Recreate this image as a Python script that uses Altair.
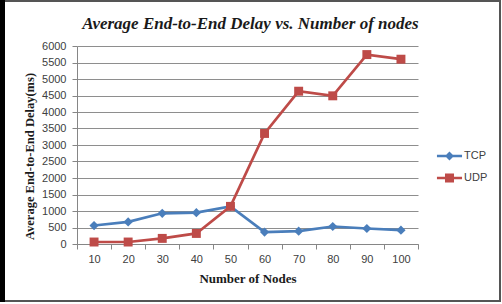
import altair as alt
import pandas as pd

nodes = [10, 20, 30, 40, 50, 60, 70, 80, 90, 100]
tcp = [560, 670, 930, 950, 1140, 360, 390, 530, 470, 420]
udp = [60, 60, 170, 320, 1140, 3350, 4630, 4490, 5740, 5600]
series = ["TCP", "UDP"]
colors = ["#4A7EBB", "#BE4B48"]
y_ticks = list(range(0, 6001, 500))

df = pd.DataFrame({
    "nodes": nodes * 2,
    "delay": tcp + udp,
    "series": ["TCP"] * len(nodes) + ["UDP"] * len(nodes),
})

LEFT, TOP, W, H = 77, 46, 341, 198
TOTAL_W, TOTAL_H = 502, 304

label_font = "Liberation Sans"
serif = "Liberation Serif"

x_enc = alt.X(
    "nodes:O",
    scale=alt.Scale(type="band", paddingInner=0, paddingOuter=0),
    axis=alt.Axis(
        title="Number of Nodes",
        labelAngle=0,
        tickBand="extent",
        tickSize=5,
        tickColor="#868686",
        domainColor="#868686",
        labelFont=label_font,
        labelFontSize=11,
        labelColor="#404040",
        labelPadding=4,
        titleFont=serif,
        titleFontSize=13,
        titleFontWeight="bold",
        titleColor="#1a1a1a",
        titleY=34,
        titleBaseline="middle",
        titleX=W / 2,
        titleAlign="center",
        grid=False,
    ),
)

y_enc = alt.Y(
    "delay:Q",
    scale=alt.Scale(domain=[0, 6000], nice=False),
    axis=alt.Axis(
        title="Average End-to-End Delay(ms)",
        values=y_ticks,
        format="d",
        labelOverlap=False,
        tickSize=5,
        tickColor="#868686",
        domainColor="#868686",
        gridColor="#8e8e8e",
        gridWidth=1,
        labelFont=label_font,
        labelFontSize=11,
        labelColor="#404040",
        labelPadding=6,
        titleFont=serif,
        titleFontSize=12.5,
        titleFontWeight="bold",
        titleColor="#1a1a1a",
        titleX=-48,
        titleY=110,
        titleAngle=270,
        titleAlign="center",
        titleBaseline="middle",
    ),
)

base = alt.Chart(df)

layers = []
shapes_mark = {"TCP": "diamond", "UDP": "square"}
sizes = {"TCP": 85, "UDP": 80}
for s, c in zip(series, colors):
    sub = base.transform_filter(alt.datum.series == s)
    layers.append(sub.mark_line(color=c, strokeWidth=2.7).encode(x=x_enc, y=y_enc))
for s, c in zip(series, colors):
    sub = base.transform_filter(alt.datum.series == s)
    layers.append(
        sub.mark_point(shape=shapes_mark[s], filled=True, color=c, size=sizes[s], opacity=1)
        .encode(x=x_enc, y=y_enc)
    )

legend_paths = [
    "M-1.14,-0.12L1.14,-0.12L1.14,0.12L-1.14,0.12Z M0,-0.41L0.41,0L0,0.41L-0.41,0Z",
    "M-1.14,-0.12L1.14,-0.12L1.14,0.12L-1.14,0.12Z M-0.41,-0.41L0.41,-0.41L0.41,0.41L-0.41,0.41Z",
]

legend_opts = dict(
    title=None,
    orient="none",
    legendX=361.5,
    legendY=99,
    padding=0,
    rowPadding=6,
    symbolSize=484,
    symbolStrokeWidth=0,
    labelFont=label_font,
    labelFontSize=11,
    labelColor="#404040",
    labelOffset=3.5,
)

legend_layer = base.transform_filter("false").mark_point(filled=True, opacity=1).encode(
    x=x_enc,
    y=y_enc,
    color=alt.Color(
        "series:N",
        scale=alt.Scale(domain=series, range=colors),
        legend=alt.Legend(**legend_opts),
    ),
    shape=alt.Shape(
        "series:N",
        scale=alt.Scale(domain=series, range=legend_paths),
        legend=alt.Legend(**legend_opts),
    ),
)

frame_df = pd.DataFrame({"f": [0]})
frame = alt.Chart(frame_df).mark_rect(fillOpacity=0, stroke="#555555", strokeWidth=2).encode(
    x=alt.value(-LEFT + 1), x2=alt.value(TOTAL_W - LEFT - 2),
    y=alt.value(-TOP + 1), y2=alt.value(TOTAL_H - TOP - 3),
)
left_bar = alt.Chart(frame_df).mark_rect(color="black").encode(
    x=alt.value(-LEFT), x2=alt.value(-LEFT + 5),
    y=alt.value(-TOP), y2=alt.value(TOTAL_H - TOP - 2),
)

chart = alt.layer(*layers, legend_layer, frame, left_bar).properties(
    width=W,
    height=H,
    padding={"left": LEFT, "top": TOP, "right": TOTAL_W - LEFT - W, "bottom": TOTAL_H - TOP - H},
    autosize=alt.AutoSizeParams(type="none"),
    background="white",
    title=alt.Title(
        "Average End-to-End Delay vs. Number of nodes",
        font=serif,
        fontSize=17,
        fontWeight="bold",
        fontStyle="italic",
        color="#1a1a1a",
        anchor="middle",
        baseline="alphabetic",
        offset=-46,
        dx=3,
    ),
).configure_view(stroke=None)

chart.save("out.html", embed_options={"renderer": "svg", "actions": False})
